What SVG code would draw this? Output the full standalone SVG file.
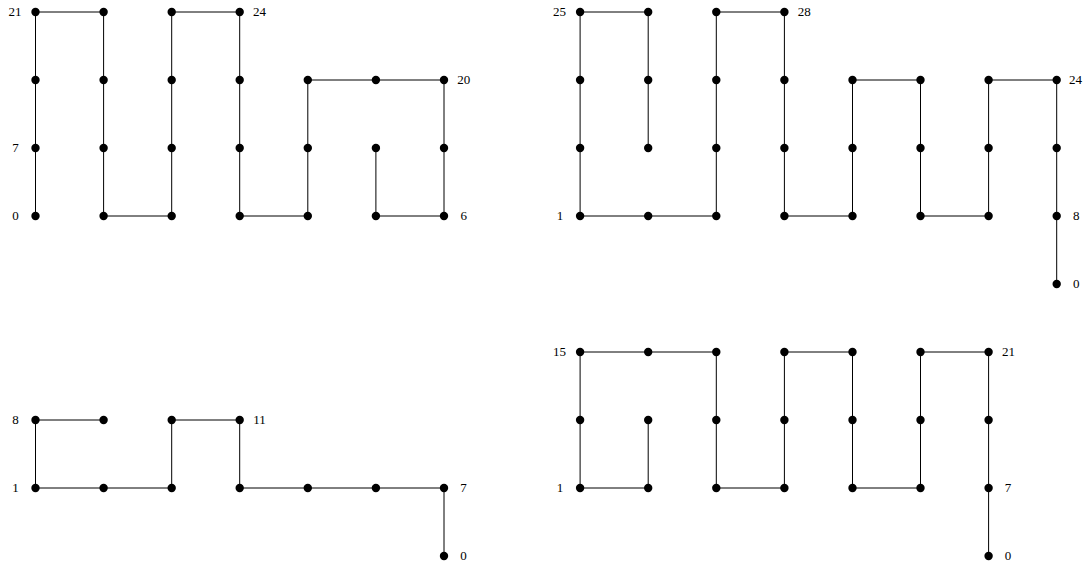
<svg xmlns="http://www.w3.org/2000/svg" width="1086" height="568" viewBox="0 0 1086 568">
<style>
.e{stroke:#000;stroke-width:1;fill:none}
.n{fill:#000}
.l{font-family:"Liberation Serif","DejaVu Serif",serif;font-size:13px;fill:#000;text-anchor:middle}
</style>
<rect width="1086" height="568" fill="#fff"/>
<g id="connectors">
<!-- A -->
<line class="e" x1="35.5" y1="12" x2="35.5" y2="216"/>
<line class="e" x1="35.5" y1="12" x2="103.6" y2="12"/>
<line class="e" x1="103.6" y1="12" x2="103.6" y2="216"/>
<line class="e" x1="103.6" y1="216" x2="171.7" y2="216"/>
<line class="e" x1="171.7" y1="12" x2="171.7" y2="216"/>
<line class="e" x1="171.7" y1="12" x2="239.7" y2="12"/>
<line class="e" x1="239.7" y1="12" x2="239.7" y2="216"/>
<line class="e" x1="239.7" y1="216" x2="307.8" y2="216"/>
<line class="e" x1="307.8" y1="80" x2="307.8" y2="216"/>
<line class="e" x1="307.8" y1="80" x2="444" y2="80"/>
<line class="e" x1="444" y1="80" x2="444" y2="216"/>
<line class="e" x1="375.9" y1="216" x2="444" y2="216"/>
<line class="e" x1="375.9" y1="148" x2="375.9" y2="216"/>
<!-- B -->
<line class="e" x1="580.1" y1="12" x2="580.1" y2="216"/>
<line class="e" x1="580.1" y1="12" x2="648.2" y2="12"/>
<line class="e" x1="648.2" y1="12" x2="648.2" y2="148"/>
<line class="e" x1="580.1" y1="216" x2="716.3" y2="216"/>
<line class="e" x1="716.3" y1="12" x2="716.3" y2="216"/>
<line class="e" x1="716.3" y1="12" x2="784.4" y2="12"/>
<line class="e" x1="784.4" y1="12" x2="784.4" y2="216"/>
<line class="e" x1="784.4" y1="216" x2="852.5" y2="216"/>
<line class="e" x1="852.5" y1="80" x2="852.5" y2="216"/>
<line class="e" x1="852.5" y1="80" x2="920.5" y2="80"/>
<line class="e" x1="920.5" y1="80" x2="920.5" y2="216"/>
<line class="e" x1="920.5" y1="216" x2="988.6" y2="216"/>
<line class="e" x1="988.6" y1="80" x2="988.6" y2="216"/>
<line class="e" x1="988.6" y1="80" x2="1056.7" y2="80"/>
<line class="e" x1="1056.7" y1="80" x2="1056.7" y2="284"/>
<!-- C -->
<line class="e" x1="35.5" y1="420" x2="35.5" y2="488"/>
<line class="e" x1="35.5" y1="420" x2="103.6" y2="420"/>
<line class="e" x1="35.5" y1="488" x2="171.7" y2="488"/>
<line class="e" x1="171.7" y1="420" x2="171.7" y2="488"/>
<line class="e" x1="171.7" y1="420" x2="239.7" y2="420"/>
<line class="e" x1="239.7" y1="420" x2="239.7" y2="488"/>
<line class="e" x1="239.7" y1="488" x2="444" y2="488"/>
<line class="e" x1="444" y1="488" x2="444" y2="556"/>
<!-- D -->
<line class="e" x1="580.1" y1="352" x2="580.1" y2="488"/>
<line class="e" x1="580.1" y1="488" x2="648.2" y2="488"/>
<line class="e" x1="648.2" y1="420" x2="648.2" y2="488"/>
<line class="e" x1="580.1" y1="352" x2="716.3" y2="352"/>
<line class="e" x1="716.3" y1="352" x2="716.3" y2="488"/>
<line class="e" x1="716.3" y1="488" x2="784.4" y2="488"/>
<line class="e" x1="784.4" y1="352" x2="784.4" y2="488"/>
<line class="e" x1="784.4" y1="352" x2="852.5" y2="352"/>
<line class="e" x1="852.5" y1="352" x2="852.5" y2="488"/>
<line class="e" x1="852.5" y1="488" x2="920.5" y2="488"/>
<line class="e" x1="920.5" y1="352" x2="920.5" y2="488"/>
<line class="e" x1="920.5" y1="352" x2="988.6" y2="352"/>
<line class="e" x1="988.6" y1="352" x2="988.6" y2="556"/>
</g>
<g id="graph-a">
<g id="a0-0"><circle class="n" cx="35.5" cy="12" r="4.2"/><text class="l" x="15" y="16">21</text></g>
<g id="a1-0"><circle class="n" cx="103.6" cy="12" r="4.2"/></g>
<g id="a2-0"><circle class="n" cx="171.7" cy="12" r="4.2"/></g>
<g id="a3-0"><circle class="n" cx="239.7" cy="12" r="4.2"/><text class="l" x="259.5" y="16">24</text></g>
<g id="a0-1"><circle class="n" cx="35.5" cy="80" r="4.2"/></g>
<g id="a1-1"><circle class="n" cx="103.6" cy="80" r="4.2"/></g>
<g id="a2-1"><circle class="n" cx="171.7" cy="80" r="4.2"/></g>
<g id="a3-1"><circle class="n" cx="239.7" cy="80" r="4.2"/></g>
<g id="a4-1"><circle class="n" cx="307.8" cy="80" r="4.2"/></g>
<g id="a5-1"><circle class="n" cx="375.9" cy="80" r="4.2"/></g>
<g id="a6-1"><circle class="n" cx="444" cy="80" r="4.2"/><text class="l" x="463.8" y="84">20</text></g>
<g id="a0-2"><circle class="n" cx="35.5" cy="148" r="4.2"/><text class="l" x="15.5" y="152">7</text></g>
<g id="a1-2"><circle class="n" cx="103.6" cy="148" r="4.2"/></g>
<g id="a2-2"><circle class="n" cx="171.7" cy="148" r="4.2"/></g>
<g id="a3-2"><circle class="n" cx="239.7" cy="148" r="4.2"/></g>
<g id="a4-2"><circle class="n" cx="307.8" cy="148" r="4.2"/></g>
<g id="a5-2"><circle class="n" cx="375.9" cy="148" r="4.2"/></g>
<g id="a6-2"><circle class="n" cx="444" cy="148" r="4.2"/></g>
<g id="a0-3"><circle class="n" cx="35.5" cy="216" r="4.2"/><text class="l" x="15.5" y="220">0</text></g>
<g id="a1-3"><circle class="n" cx="103.6" cy="216" r="4.2"/></g>
<g id="a2-3"><circle class="n" cx="171.7" cy="216" r="4.2"/></g>
<g id="a3-3"><circle class="n" cx="239.7" cy="216" r="4.2"/></g>
<g id="a4-3"><circle class="n" cx="307.8" cy="216" r="4.2"/></g>
<g id="a5-3"><circle class="n" cx="375.9" cy="216" r="4.2"/></g>
<g id="a6-3"><circle class="n" cx="444" cy="216" r="4.2"/><text class="l" x="463.8" y="220">6</text></g>
</g>
<g id="graph-b">
<g id="b0-0"><circle class="n" cx="580.1" cy="12" r="4.2"/><text class="l" x="559.6" y="16">25</text></g>
<g id="b1-0"><circle class="n" cx="648.2" cy="12" r="4.2"/></g>
<g id="b2-0"><circle class="n" cx="716.3" cy="12" r="4.2"/></g>
<g id="b3-0"><circle class="n" cx="784.4" cy="12" r="4.2"/><text class="l" x="804.2" y="16">28</text></g>
<g id="b0-1"><circle class="n" cx="580.1" cy="80" r="4.2"/></g>
<g id="b1-1"><circle class="n" cx="648.2" cy="80" r="4.2"/></g>
<g id="b2-1"><circle class="n" cx="716.3" cy="80" r="4.2"/></g>
<g id="b3-1"><circle class="n" cx="784.4" cy="80" r="4.2"/></g>
<g id="b4-1"><circle class="n" cx="852.5" cy="80" r="4.2"/></g>
<g id="b5-1"><circle class="n" cx="920.5" cy="80" r="4.2"/></g>
<g id="b6-1"><circle class="n" cx="988.6" cy="80" r="4.2"/></g>
<g id="b7-1"><circle class="n" cx="1056.7" cy="80" r="4.2"/><text class="l" x="1075.5" y="84">24</text></g>
<g id="b0-2"><circle class="n" cx="580.1" cy="148" r="4.2"/></g>
<g id="b1-2"><circle class="n" cx="648.2" cy="148" r="4.2"/></g>
<g id="b2-2"><circle class="n" cx="716.3" cy="148" r="4.2"/></g>
<g id="b3-2"><circle class="n" cx="784.4" cy="148" r="4.2"/></g>
<g id="b4-2"><circle class="n" cx="852.5" cy="148" r="4.2"/></g>
<g id="b5-2"><circle class="n" cx="920.5" cy="148" r="4.2"/></g>
<g id="b6-2"><circle class="n" cx="988.6" cy="148" r="4.2"/></g>
<g id="b7-2"><circle class="n" cx="1056.7" cy="148" r="4.2"/></g>
<g id="b0-3"><circle class="n" cx="580.1" cy="216" r="4.2"/><text class="l" x="560.1" y="220">1</text></g>
<g id="b1-3"><circle class="n" cx="648.2" cy="216" r="4.2"/></g>
<g id="b2-3"><circle class="n" cx="716.3" cy="216" r="4.2"/></g>
<g id="b3-3"><circle class="n" cx="784.4" cy="216" r="4.2"/></g>
<g id="b4-3"><circle class="n" cx="852.5" cy="216" r="4.2"/></g>
<g id="b5-3"><circle class="n" cx="920.5" cy="216" r="4.2"/></g>
<g id="b6-3"><circle class="n" cx="988.6" cy="216" r="4.2"/></g>
<g id="b7-3"><circle class="n" cx="1056.7" cy="216" r="4.2"/><text class="l" x="1076.2" y="220">8</text></g>
<g id="b7-4"><circle class="n" cx="1056.7" cy="284" r="4.2"/><text class="l" x="1076.2" y="288">0</text></g>
</g>
<g id="graph-c">
<g id="c0-0"><circle class="n" cx="35.5" cy="420" r="4.2"/><text class="l" x="15.5" y="424">8</text></g>
<g id="c1-0"><circle class="n" cx="103.6" cy="420" r="4.2"/></g>
<g id="c2-0"><circle class="n" cx="171.7" cy="420" r="4.2"/></g>
<g id="c3-0"><circle class="n" cx="239.7" cy="420" r="4.2"/><text class="l" x="259.5" y="424">11</text></g>
<g id="c0-1"><circle class="n" cx="35.5" cy="488" r="4.2"/><text class="l" x="15.5" y="492">1</text></g>
<g id="c1-1"><circle class="n" cx="103.6" cy="488" r="4.2"/></g>
<g id="c2-1"><circle class="n" cx="171.7" cy="488" r="4.2"/></g>
<g id="c3-1"><circle class="n" cx="239.7" cy="488" r="4.2"/></g>
<g id="c4-1"><circle class="n" cx="307.8" cy="488" r="4.2"/></g>
<g id="c5-1"><circle class="n" cx="375.9" cy="488" r="4.2"/></g>
<g id="c6-1"><circle class="n" cx="444" cy="488" r="4.2"/><text class="l" x="463.5" y="492">7</text></g>
<g id="c6-2"><circle class="n" cx="444" cy="556" r="4.2"/><text class="l" x="463.5" y="560">0</text></g>
</g>
<g id="graph-d">
<g id="d0-0"><circle class="n" cx="580.1" cy="352" r="4.2"/><text class="l" x="559.6" y="356">15</text></g>
<g id="d1-0"><circle class="n" cx="648.2" cy="352" r="4.2"/></g>
<g id="d2-0"><circle class="n" cx="716.3" cy="352" r="4.2"/></g>
<g id="d3-0"><circle class="n" cx="784.4" cy="352" r="4.2"/></g>
<g id="d4-0"><circle class="n" cx="852.5" cy="352" r="4.2"/></g>
<g id="d5-0"><circle class="n" cx="920.5" cy="352" r="4.2"/></g>
<g id="d6-0"><circle class="n" cx="988.6" cy="352" r="4.2"/><text class="l" x="1008.4" y="356">21</text></g>
<g id="d0-1"><circle class="n" cx="580.1" cy="420" r="4.2"/></g>
<g id="d1-1"><circle class="n" cx="648.2" cy="420" r="4.2"/></g>
<g id="d2-1"><circle class="n" cx="716.3" cy="420" r="4.2"/></g>
<g id="d3-1"><circle class="n" cx="784.4" cy="420" r="4.2"/></g>
<g id="d4-1"><circle class="n" cx="852.5" cy="420" r="4.2"/></g>
<g id="d5-1"><circle class="n" cx="920.5" cy="420" r="4.2"/></g>
<g id="d6-1"><circle class="n" cx="988.6" cy="420" r="4.2"/></g>
<g id="d0-2"><circle class="n" cx="580.1" cy="488" r="4.2"/><text class="l" x="560.1" y="492">1</text></g>
<g id="d1-2"><circle class="n" cx="648.2" cy="488" r="4.2"/></g>
<g id="d2-2"><circle class="n" cx="716.3" cy="488" r="4.2"/></g>
<g id="d3-2"><circle class="n" cx="784.4" cy="488" r="4.2"/></g>
<g id="d4-2"><circle class="n" cx="852.5" cy="488" r="4.2"/></g>
<g id="d5-2"><circle class="n" cx="920.5" cy="488" r="4.2"/></g>
<g id="d6-2"><circle class="n" cx="988.6" cy="488" r="4.2"/><text class="l" x="1008.1" y="492">7</text></g>
<g id="d6-3"><circle class="n" cx="988.6" cy="556" r="4.2"/><text class="l" x="1008.1" y="560">0</text></g>
</g>
</svg>
